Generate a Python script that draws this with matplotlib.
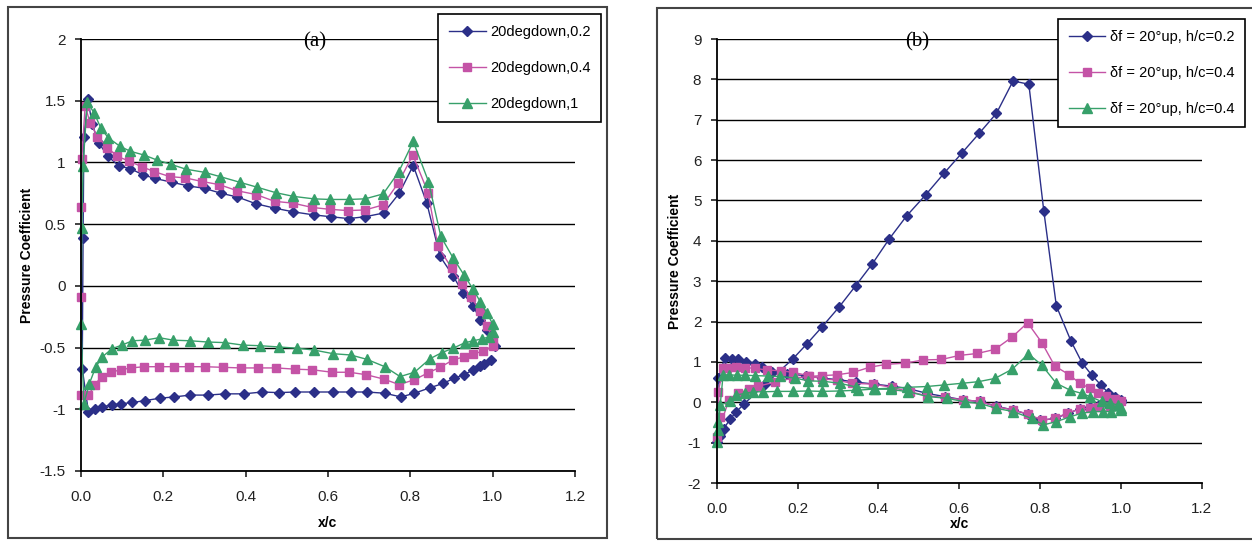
import numpy as np
import matplotlib
matplotlib.use("Agg")
import matplotlib.pyplot as plt
from matplotlib.patches import Rectangle
from matplotlib.ticker import FixedLocator, FuncFormatter

plt.rcParams['font.family'] = ['Liberation Sans', 'DejaVu Sans']

# ---- (a) flap 20 deg down: upper surface TE->LE, lower surface LE->TE ----
a02_up_x = [1.005, 0.985, 0.97, 0.952, 0.928, 0.904, 0.872, 0.84, 0.807, 0.773, 0.735, 0.69, 0.65,
            0.607, 0.565, 0.515, 0.47, 0.425, 0.38, 0.34, 0.30, 0.26, 0.22, 0.18, 0.15, 0.12, 0.093,
            0.065, 0.043, 0.027, 0.017, 0.007, 0.005]
a02_up_cp = [-0.49, -0.36, -0.275, -0.16, -0.06, 0.08, 0.24, 0.67, 0.975, 0.75, 0.59, 0.56, 0.545,
             0.56, 0.575, 0.60, 0.63, 0.665, 0.72, 0.75, 0.79, 0.81, 0.84, 0.87, 0.90, 0.95, 0.97,
             1.05, 1.16, 1.31, 1.51, 1.21, 0.39]
a02_lo_x = [0.003, 0.018, 0.034, 0.051, 0.075, 0.098, 0.125, 0.155, 0.192, 0.226, 0.265, 0.308, 0.35,
            0.395, 0.44, 0.48, 0.52, 0.565, 0.613, 0.655, 0.694, 0.738, 0.777, 0.81, 0.848, 0.88,
            0.905, 0.93, 0.953, 0.97, 0.98, 0.995]
a02_lo_cp = [-0.67, -1.02, -1.0, -0.98, -0.965, -0.955, -0.945, -0.93, -0.91, -0.90, -0.885, -0.885,
             -0.875, -0.875, -0.86, -0.865, -0.86, -0.86, -0.86, -0.86, -0.86, -0.87, -0.90, -0.87,
             -0.825, -0.79, -0.75, -0.72, -0.68, -0.65, -0.63, -0.60]

a04_up_x = [1.0, 0.987, 0.969, 0.947, 0.925, 0.90, 0.867, 0.843, 0.806, 0.77, 0.733, 0.69, 0.648,
            0.605, 0.562, 0.515, 0.47, 0.425, 0.38, 0.336, 0.295, 0.253, 0.216, 0.178, 0.148, 0.117,
            0.088, 0.064, 0.04, 0.022, 0.01, 0.002, 0.0]
a04_up_cp = [-0.43, -0.325, -0.20, -0.09, 0.015, 0.145, 0.32, 0.755, 1.06, 0.83, 0.655, 0.615, 0.61,
             0.62, 0.635, 0.67, 0.685, 0.74, 0.77, 0.82, 0.845, 0.875, 0.885, 0.925, 0.965, 1.01,
             1.05, 1.12, 1.21, 1.32, 1.46, 1.03, 0.64]
a04_lo_x = [0.0, 0.0, 0.018, 0.034, 0.05, 0.073, 0.096, 0.122, 0.153, 0.19, 0.225, 0.263, 0.30,
            0.344, 0.388, 0.43, 0.474, 0.52, 0.562, 0.61, 0.652, 0.693, 0.735, 0.773, 0.81, 0.843,
            0.872, 0.904, 0.93, 0.953, 0.977, 1.0]
a04_lo_cp = [-0.09, -0.885, -0.885, -0.80, -0.735, -0.70, -0.68, -0.665, -0.655, -0.655, -0.655,
             -0.655, -0.655, -0.66, -0.665, -0.665, -0.665, -0.675, -0.68, -0.70, -0.70, -0.72,
             -0.755, -0.80, -0.76, -0.705, -0.66, -0.60, -0.575, -0.55, -0.53, -0.49]

a1_up_x = [1.0, 0.986, 0.97, 0.952, 0.93, 0.904, 0.874, 0.844, 0.807, 0.772, 0.734, 0.69, 0.65,
           0.605, 0.565, 0.516, 0.473, 0.427, 0.385, 0.338, 0.30, 0.255, 0.218, 0.184, 0.153, 0.12,
           0.095, 0.066, 0.048, 0.032, 0.015, 0.005, 0.002]
a1_up_cp = [-0.31, -0.22, -0.13, -0.025, 0.09, 0.225, 0.40, 0.845, 1.17, 0.925, 0.745, 0.705, 0.70,
            0.70, 0.705, 0.725, 0.755, 0.80, 0.84, 0.885, 0.92, 0.945, 0.985, 1.02, 1.06, 1.09,
            1.13, 1.2, 1.28, 1.40, 1.49, 0.97, 0.47]
a1_lo_x = [0.0, 0.007, 0.02, 0.036, 0.052, 0.075, 0.099, 0.125, 0.155, 0.19, 0.224, 0.265, 0.308,
           0.35, 0.393, 0.435, 0.48, 0.524, 0.566, 0.613, 0.655, 0.694, 0.738, 0.775, 0.81, 0.848,
           0.877, 0.904, 0.933, 0.953, 0.973, 0.99, 1.0]
a1_lo_cp = [-0.31, -0.955, -0.795, -0.655, -0.575, -0.51, -0.48, -0.445, -0.44, -0.42, -0.44,
            -0.445, -0.455, -0.46, -0.48, -0.485, -0.495, -0.505, -0.52, -0.55, -0.56, -0.595,
            -0.655, -0.735, -0.70, -0.59, -0.54, -0.505, -0.46, -0.445, -0.43, -0.415, -0.37]

# ---- (b) flap 20 deg up: branch A (from LE top) and branch B (from LE bottom), both LE->TE ----
b02_A_x = [0.004, 0.02, 0.037, 0.054, 0.073, 0.095, 0.111, 0.136, 0.175, 0.22, 0.26, 0.30, 0.345,
           0.39, 0.433, 0.474, 0.52, 0.565, 0.61, 0.651, 0.692, 0.733, 0.77, 0.80, 0.837, 0.87,
           0.898, 0.923, 0.945, 0.965, 0.985, 1.0]
b02_A_cp = [0.59, 1.10, 1.08, 1.06, 1.0, 0.95, 0.88, 0.76, 0.70, 0.66, 0.60, 0.56, 0.50, 0.45, 0.40,
            0.34, 0.22, 0.14, 0.06, 0.02, -0.10, -0.19, -0.30, -0.45, -0.40, -0.27, -0.16, -0.11,
            -0.07, -0.04, -0.02, 0.0]
b02_B_x = [0.0, 0.008, 0.018, 0.033, 0.049, 0.068, 0.12, 0.188, 0.2225, 0.26, 0.302, 0.344, 0.385,
           0.427, 0.47, 0.517, 0.562, 0.606, 0.649, 0.692, 0.733, 0.772, 0.809, 0.84, 0.876, 0.904,
           0.927, 0.95, 0.968, 0.985, 1.0]
b02_B_cp = [-0.99, -0.83, -0.65, -0.42, -0.23, -0.04, 0.45, 1.07, 1.44, 1.86, 2.35, 2.89, 3.43,
            4.05, 4.62, 5.14, 5.67, 6.17, 6.66, 7.16, 7.96, 7.88, 4.74, 2.39, 1.52, 0.97, 0.68,
            0.43, 0.24, 0.14, 0.06]

b04_A_x = [0.008, 0.004, 0.016, 0.026, 0.049, 0.07, 0.095, 0.124, 0.16, 0.19, 0.227, 0.26, 0.297,
           0.334, 0.387, 0.433, 0.478, 0.52, 0.565, 0.61, 0.651, 0.692, 0.733, 0.77, 0.804, 0.837,
           0.866, 0.898, 0.923, 0.944, 0.973, 0.993]
b04_A_cp = [-0.36, 0.26, 0.84, 0.86, 0.88, 0.86, 0.84, 0.80, 0.78, 0.74, 0.66, 0.58, 0.55, 0.47,
            0.45, 0.37, 0.26, 0.16, 0.12, 0.06, 0.02, -0.11, -0.19, -0.29, -0.44, -0.40, -0.27,
            -0.17, -0.15, -0.12, -0.08, -0.06]
b04_B_x = [0.0, 0.03, 0.053, 0.08, 0.103, 0.144, 0.19, 0.228, 0.26, 0.297, 0.338, 0.379, 0.42,
           0.467, 0.511, 0.556, 0.60, 0.645, 0.688, 0.73, 0.769, 0.804, 0.836, 0.872, 0.898, 0.923,
           0.944, 0.964, 0.985, 1.0]
b04_B_cp = [-0.85, 0.05, 0.22, 0.32, 0.40, 0.50, 0.60, 0.64, 0.66, 0.68, 0.74, 0.87, 0.94, 0.97,
            1.05, 1.06, 1.16, 1.21, 1.31, 1.61, 1.97, 1.48, 0.90, 0.68, 0.47, 0.35, 0.22, 0.15,
            0.07, 0.03]

b1_A_x = [0.016, 0.03, 0.05, 0.07, 0.095, 0.128, 0.157, 0.194, 0.227, 0.264, 0.305, 0.344, 0.39,
          0.43, 0.474, 0.523, 0.569, 0.614, 0.651, 0.692, 0.733, 0.779, 0.808, 0.84, 0.874, 0.903,
          0.931, 0.955, 0.975, 1.0]
b1_A_cp = [0.68, 0.68, 0.67, 0.67, 0.66, 0.65, 0.64, 0.60, 0.53, 0.52, 0.47, 0.38, 0.34, 0.32,
           0.26, 0.14, 0.10, 0.01, -0.03, -0.15, -0.23, -0.40, -0.56, -0.48, -0.36, -0.27, -0.23,
           -0.23, -0.23, -0.20]
b1_B_x = [0.0, 0.004, 0.004, 0.008, 0.033, 0.049, 0.07, 0.091, 0.115, 0.15, 0.19, 0.225, 0.26,
          0.305, 0.35, 0.391, 0.43, 0.47, 0.519, 0.563, 0.606, 0.647, 0.688, 0.731, 0.771, 0.804,
          0.84, 0.874, 0.903, 0.923, 0.952, 0.973, 0.993, 1.0]
b1_B_cp = [-0.98, -0.69, -0.48, -0.07, 0.02, 0.18, 0.22, 0.26, 0.26, 0.27, 0.27, 0.28, 0.27, 0.28,
           0.30, 0.33, 0.35, 0.37, 0.39, 0.43, 0.47, 0.51, 0.59, 0.82, 1.2, 0.92, 0.47, 0.30, 0.22,
           0.14, 0.02, -0.02, -0.07, -0.13]

labels_a = ["20degdown,0.2", "20degdown,0.4", "20degdown,1"]
labels_b = ["δf = 20°up, h/c=0.2", "δf = 20°up, h/c=0.4", "δf = 20°up, h/c=0.4"]

BLUE = "#2b2f88"
PINK = "#c453a6"
GREEN = "#37a06a"
styles = [dict(color=BLUE, marker="D", ms=5.0),
          dict(color=PINK, marker="s", ms=5.5),
          dict(color=GREEN, marker="^", ms=6.5)]


def loop_a(up_x, up_cp, lo_x, lo_cp):
    return np.r_[up_x, lo_x], np.r_[up_cp, lo_cp]


def loop_b(ax_, acp, bx, bcp):
    # branch A back from TE to LE, then branch B out to the TE
    return np.r_[ax_[::-1], bx], np.r_[acp[::-1], bcp]


def style_axes(ax, yticks, xlab_y, ylab_x):
    ax.set_xlim(0, 1.2)
    ax.set_ylim(yticks[0], yticks[-1])
    ax.xaxis.set_major_locator(FixedLocator([0, 0.2, 0.4, 0.6, 0.8, 1.0, 1.2]))
    ax.xaxis.set_major_formatter(FuncFormatter(lambda v, p: f"{v:.1f}"))
    ax.yaxis.set_major_locator(FixedLocator(yticks))
    ax.yaxis.set_major_formatter(FuncFormatter(lambda v, p: f"{v:g}"))
    for s in ("top", "right"):
        ax.spines[s].set_visible(False)
    for s in ("left", "bottom"):
        ax.spines[s].set_linewidth(1.3)
    ax.tick_params(direction="out", length=4, width=1.2, labelsize=11, colors="#222222")
    ax.tick_params(axis="x", pad=10)
    ax.tick_params(axis="y", pad=7)
    ax.grid(axis="y", color="black", lw=1.0)
    ax.set_axisbelow(True)
    ax.set_xlabel("x/c", fontsize=10, fontweight="bold")
    ax.set_ylabel("Pressure Coefficient", fontsize=10, fontweight="bold")
    ax.xaxis.set_label_coords(0.5, xlab_y)
    ax.yaxis.set_label_coords(ylab_x, 0.5)


fig = plt.figure(figsize=(12.52, 5.41), dpi=100)

# outer frames around each panel
fig.patches.append(Rectangle((0.0064, 0.0055), 0.4784, 0.981, transform=fig.transFigure,
                             fill=False, ec="#444444", lw=1.5))
fig.patches.append(Rectangle((0.5248, 0.0037), 0.49, 0.981, transform=fig.transFigure,
                             fill=False, ec="#444444", lw=1.5))

ax1 = fig.add_axes([0.0647, 0.1294, 0.3946, 0.7985])
ax2 = fig.add_axes([0.5724, 0.1072, 0.3876, 0.8207])

series_a = [loop_a(a02_up_x, a02_up_cp, a02_lo_x, a02_lo_cp),
            loop_a(a04_up_x, a04_up_cp, a04_lo_x, a04_lo_cp),
            loop_a(a1_up_x, a1_up_cp, a1_lo_x, a1_lo_cp)]
series_b = [loop_b(b02_A_x, b02_A_cp, b02_B_x, b02_B_cp),
            loop_b(b04_A_x, b04_A_cp, b04_B_x, b04_B_cp),
            loop_b(b1_A_x, b1_A_cp, b1_B_x, b1_B_cp)]

for (x, cp), lab, st in zip(series_a, labels_a, styles):
    ax1.plot(x, cp, lw=1.0, label=lab, clip_on=False, **st)
for (x, cp), lab, st in zip(series_b, labels_b, styles):
    ax2.plot(x, cp, lw=1.0, label=lab, clip_on=False, **st)

style_axes(ax1, [-1.5, -1, -0.5, 0, 0.5, 1, 1.5, 2], -0.105, -0.095)
style_axes(ax2, list(range(-2, 10)), -0.077, -0.072)

fig.text(0.2516, 0.922, "(a)", family=["Liberation Serif", "DejaVu Serif"], fontsize=15,
         ha="center", va="center")
fig.text(0.7325, 0.922, "(b)", family=["Liberation Serif", "DejaVu Serif"], fontsize=15,
         ha="center", va="center")

leg_kw = dict(loc="upper left", frameon=True, fancybox=False, framealpha=1, edgecolor="black",
              handlelength=2.5, labelspacing=1.5, borderpad=0.75, handletextpad=0.3,
              borderaxespad=0, bbox_transform=fig.transFigure)
leg1 = ax1.legend(bbox_to_anchor=(0.35, 0.974), fontsize=10.5, **leg_kw)
leg2 = ax2.legend(bbox_to_anchor=(0.845, 0.965), fontsize=10.5, **leg_kw)
for lg in (leg1, leg2):
    lg.get_frame().set_linewidth(1.2)

fig.savefig("out.png", dpi=100)
